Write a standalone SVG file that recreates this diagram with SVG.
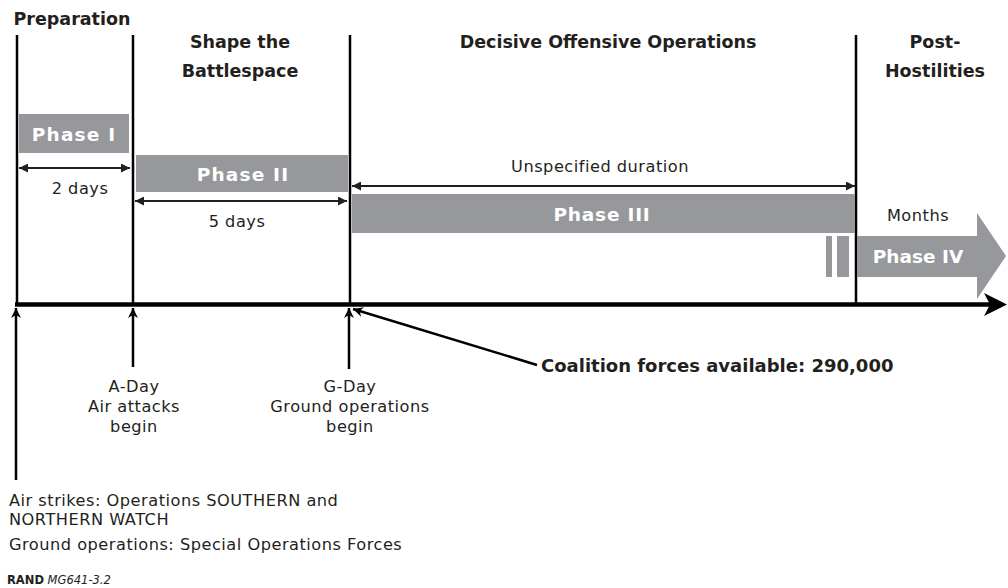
<svg xmlns="http://www.w3.org/2000/svg" width="1008" height="588" viewBox="0 0 1008 588">
<style>
.t{font-family:"DejaVu Sans","Liberation Sans",Arial,sans-serif;fill:#231f20}
.h{font-size:17.5px;font-weight:bold;text-anchor:middle}
.n{font-size:16.2px;letter-spacing:0.5px}
.c{text-anchor:middle}
.ph{font-family:"DejaVu Sans","Liberation Sans",Arial,sans-serif;font-size:18.5px;font-weight:bold;fill:#ffffff;text-anchor:middle}
.bar{fill:#97989b}
.vl{stroke:#000;stroke-width:2.5;fill:none}
.dim{stroke:#231f20;stroke-width:2;fill:none;marker-start:url(#dm);marker-end:url(#dm)}
.up{stroke:#000;stroke-width:2.5;fill:none;marker-end:url(#ua)}
</style>
<defs>
<marker id="dm" viewBox="0 0 10 10" refX="10" refY="5" markerWidth="10" markerHeight="9" markerUnits="userSpaceOnUse" orient="auto-start-reverse">
<path d="M0,0 L10,5 L0,10 Z" fill="#231f20"/>
</marker>
<marker id="ua" viewBox="0 0 10 10" refX="10" refY="5" markerWidth="11" markerHeight="10" markerUnits="userSpaceOnUse" orient="auto">
<path d="M0,0 L10,5 L0,10 L3,5 Z" fill="#000"/>
</marker>
</defs>

<g id="headers">
<text class="t h" x="72" y="25">Preparation</text>
<text class="t h" x="240" y="48">Shape the</text>
<text class="t h" x="240" y="77">Battlespace</text>
<text class="t h" x="608" y="48">Decisive Offensive Operations</text>
<text class="t h" x="935" y="48">Post-</text>
<text class="t h" x="935" y="77">Hostilities</text>
</g>

<g id="dividers">
<line class="vl" x1="17" y1="35" x2="17" y2="304"/>
<line class="vl" x1="133" y1="35" x2="133" y2="304"/>
<line class="vl" x1="350" y1="35" x2="350" y2="304"/>
<line class="vl" x1="856" y1="35" x2="856" y2="304"/>
</g>

<g id="phase1">
<rect class="bar" x="19" y="114" width="110" height="39"/>
<text class="ph" x="74" y="141" letter-spacing="1.2">Phase I</text>
</g>
<g id="phase2">
<rect class="bar" x="136" y="155" width="212" height="37"/>
<text class="ph" x="243" y="181" letter-spacing="1.2">Phase II</text>
</g>
<g id="phase3">
<rect class="bar" x="352" y="194" width="503" height="39"/>
<text class="ph" x="602" y="221" letter-spacing="0.8">Phase III</text>
</g>
<g id="phase4">
<rect class="bar" x="826" y="236" width="6" height="41"/>
<rect class="bar" x="837" y="236" width="12" height="41"/>
<path class="bar" d="M857,236 L977,236 L977,213 L1006,256 L977,299 L977,277 L857,277 Z"/>
<text class="ph" x="918" y="263">Phase IV</text>
<text class="t n c" x="918" y="221">Months</text>
</g>

<g id="axis">
<line x1="15" y1="304.5" x2="990" y2="304.5" stroke="#000" stroke-width="4.5"/>
<path d="M984,293 L1007,304.5 L984,316 L990,304.5 Z" fill="#000"/>
</g>

<g id="connectors">
<line class="dim" x1="19" y1="168" x2="130" y2="168"/>
<line class="dim" x1="135" y1="201" x2="347" y2="201"/>
<line class="dim" x1="352" y1="186" x2="855" y2="186"/>
<line class="up" x1="16" y1="480" x2="16" y2="308"/>
<line class="up" x1="133" y1="367" x2="133" y2="308"/>
<line class="up" x1="349" y1="369" x2="349" y2="308"/>
<line class="up" x1="537" y1="365" x2="353" y2="309"/>
</g>

<g id="labels">
<text class="t n c" x="80" y="194">2 days</text>
<text class="t n c" x="237" y="227">5 days</text>
<text class="t n c" x="600" y="172">Unspecified duration</text>
</g>

<g id="a-day">
<text class="t n c" x="134" y="392">A-Day</text>
<text class="t n c" x="134" y="412">Air attacks</text>
<text class="t n c" x="134" y="432">begin</text>
</g>
<g id="g-day">
<text class="t n c" x="350" y="392">G-Day</text>
<text class="t n c" x="350" y="412">Ground operations</text>
<text class="t n c" x="350" y="432">begin</text>
</g>
<g id="coalition">
<text class="t" x="541" y="372" font-size="18" font-weight="bold">Coalition forces available: 290,000</text>
</g>
<g id="start-notes">
<text class="t n" x="9" y="506">Air strikes: Operations SOUTHERN and</text>
<text class="t n" x="9" y="525">NORTHERN WATCH</text>
<text class="t n" x="9" y="550">Ground operations: Special Operations Forces</text>
</g>
<g id="credit">
<text class="t" x="7" y="584" font-size="11.5"><tspan font-weight="bold">RAND</tspan> <tspan font-style="italic">MG641-3.2</tspan></text>
</g>
</svg>
